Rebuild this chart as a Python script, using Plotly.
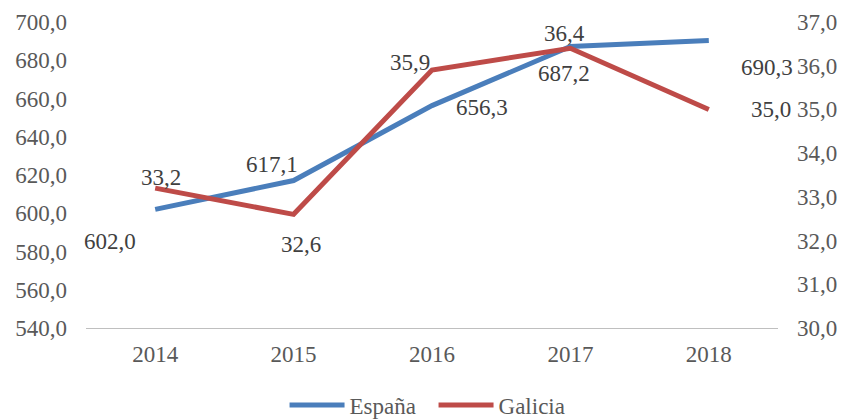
import plotly.graph_objects as go

years = ["2014", "2015", "2016", "2017", "2018"]
espana = [602.0, 617.1, 656.3, 687.2, 690.3]
galicia = [33.2, 32.6, 35.9, 36.4, 35.0]
left_ticks = [540, 560, 580, 600, 620, 640, 660, 680, 700]
right_ticks = [30, 31, 32, 33, 34, 35, 36, 37]

# label offsets (pixels) for each point
esp_shift = [(-45, -32), (-22, 16), (50, -2), (-6, -27), (58, -27)]
gal_shift = [(6, 11), (7, -30), (-22, 8), (-6, 15), (62, 0)]

FONT = "Liberation Serif"
TXT = "#595959"
BLUE = "#4A7EBB"
RED = "#BE4B48"
FS = 23

fig = go.Figure()
fig.add_trace(go.Scatter(x=years, y=espana, name="España", mode="lines",
                         line=dict(color=BLUE, width=5), yaxis="y"))
fig.add_trace(go.Scatter(x=years, y=galicia, name="Galicia", mode="lines",
                         line=dict(color=RED, width=5), yaxis="y2"))

def fmt(v):
    return f"{v:.1f}".replace(".", ",")

anns = []
for i, (v, (dx, dy)) in enumerate(zip(espana, esp_shift)):
    anns.append(dict(x=i, y=v, xref="x", yref="y", text=fmt(v), showarrow=False,
                     xshift=dx, yshift=dy, font=dict(family=FONT, size=FS, color="#404040")))
for i, (v, (dx, dy)) in enumerate(zip(galicia, gal_shift)):
    anns.append(dict(x=i, y=v, xref="x", yref="y2", text=fmt(v), showarrow=False,
                     xshift=dx, yshift=dy, font=dict(family=FONT, size=FS, color="#404040")))

fig.update_layout(
    width=847, height=419,
    margin=dict(l=78, r=77, t=14, b=99, autoexpand=False),
    paper_bgcolor="white", plot_bgcolor="white",
    separators=",.",
    font=dict(family=FONT, size=FS, color=TXT),
    showlegend=True,
    legend=dict(orientation="h", x=0.3265, xanchor="left", xref="container",
                y=0.0525, yanchor="middle", yref="container",
                font=dict(family=FONT, size=FS, color=TXT), itemwidth=55,
                entrywidth=79, tracegroupgap=0),
    xaxis=dict(type="category", range=[-0.5, 4.5], showgrid=False, showline=True,
               linecolor="#BFBFBF", linewidth=1, ticks="", ticklabelstandoff=5,
               zeroline=False, automargin=False),
    yaxis=dict(range=[540, 700], tickvals=left_ticks, tickformat=".1f", showgrid=False,
               showline=False, zeroline=False, ticks="", ticklabelstandoff=18,
               automargin=False),
    yaxis2=dict(range=[30, 37], tickvals=right_ticks, tickformat=".1f", overlaying="y",
                side="right", showgrid=False, showline=False, zeroline=False, ticks="",
                ticklabelstandoff=18, automargin=False),
    annotations=anns,
)

fig.write_html("out.html")
